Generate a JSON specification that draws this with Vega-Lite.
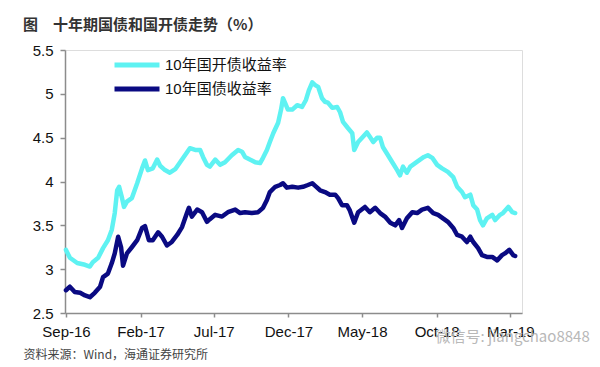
{
  "$schema": "https://vega.github.io/schema/vega-lite/v6.json",
  "width": 457,
  "height": 263,
  "autosize": {"type": "none"},
  "padding": {"left": 65, "top": 50, "right": 78, "bottom": 54},
  "background": "white",
  "title": {
    "text": "图　十年期国债和国开债走势（%）",
    "anchor": "start",
    "frame": "group",
    "dx": -42,
    "dy": 25,
    "offset": 20,
    "baseline": "bottom",
    "font": "Noto Sans CJK SC",
    "fontSize": 15,
    "fontWeight": "bold",
    "color": "#333333"
  },
  "data": {
    "values": [
      {"date": "2016-09-01", "series": "10年国开债收益率", "value": 3.22},
      {"date": "2016-09-09", "series": "10年国开债收益率", "value": 3.13},
      {"date": "2016-09-24", "series": "10年国开债收益率", "value": 3.07},
      {"date": "2016-10-10", "series": "10年国开债收益率", "value": 3.05},
      {"date": "2016-10-20", "series": "10年国开债收益率", "value": 3.03},
      {"date": "2016-10-26", "series": "10年国开债收益率", "value": 3.08},
      {"date": "2016-11-06", "series": "10年国开债收益率", "value": 3.13},
      {"date": "2016-11-16", "series": "10年国开债收益率", "value": 3.24},
      {"date": "2016-11-26", "series": "10年国开债收益率", "value": 3.33},
      {"date": "2016-12-04", "series": "10年国开债收益率", "value": 3.45},
      {"date": "2016-12-10", "series": "10年国开债收益率", "value": 3.64},
      {"date": "2016-12-15", "series": "10年国开债收益率", "value": 3.90},
      {"date": "2016-12-19", "series": "10年国开债收益率", "value": 3.94},
      {"date": "2016-12-25", "series": "10年国开债收益率", "value": 3.81},
      {"date": "2016-12-29", "series": "10年国开债收益率", "value": 3.71},
      {"date": "2017-01-04", "series": "10年国开债收益率", "value": 3.77},
      {"date": "2017-01-14", "series": "10年国开债收益率", "value": 3.81},
      {"date": "2017-01-25", "series": "10年国开债收益率", "value": 3.98},
      {"date": "2017-02-04", "series": "10年国开债收益率", "value": 4.15},
      {"date": "2017-02-10", "series": "10年国开债收益率", "value": 4.24},
      {"date": "2017-02-16", "series": "10年国开债收益率", "value": 4.13},
      {"date": "2017-02-26", "series": "10年国开债收益率", "value": 4.15},
      {"date": "2017-03-07", "series": "10年国开债收益率", "value": 4.25},
      {"date": "2017-03-13", "series": "10年国开债收益率", "value": 4.18},
      {"date": "2017-03-23", "series": "10年国开债收益率", "value": 4.13},
      {"date": "2017-04-02", "series": "10年国开债收益率", "value": 4.10},
      {"date": "2017-04-13", "series": "10年国开债收益率", "value": 4.14},
      {"date": "2017-04-23", "series": "10年国开债收益率", "value": 4.22},
      {"date": "2017-05-03", "series": "10年国开债收益率", "value": 4.30},
      {"date": "2017-05-13", "series": "10年国开债收益率", "value": 4.38},
      {"date": "2017-05-24", "series": "10年国开债收益率", "value": 4.36},
      {"date": "2017-06-03", "series": "10年国开债收益率", "value": 4.36},
      {"date": "2017-06-09", "series": "10年国开债收益率", "value": 4.28},
      {"date": "2017-06-17", "series": "10年国开债收益率", "value": 4.19},
      {"date": "2017-06-23", "series": "10年国开债收益率", "value": 4.17},
      {"date": "2017-07-04", "series": "10年国开债收益率", "value": 4.25},
      {"date": "2017-07-14", "series": "10年国开债收益率", "value": 4.19},
      {"date": "2017-07-24", "series": "10年国开债收益率", "value": 4.22},
      {"date": "2017-08-07", "series": "10年国开债收益率", "value": 4.30},
      {"date": "2017-08-20", "series": "10年国开债收益率", "value": 4.36},
      {"date": "2017-08-28", "series": "10年国开债收益率", "value": 4.34},
      {"date": "2017-09-03", "series": "10年国开债收益率", "value": 4.28},
      {"date": "2017-09-13", "series": "10年国开债收益率", "value": 4.25},
      {"date": "2017-09-24", "series": "10年国开债收益率", "value": 4.22},
      {"date": "2017-10-04", "series": "10年国开债收益率", "value": 4.21},
      {"date": "2017-10-10", "series": "10年国开债收益率", "value": 4.27},
      {"date": "2017-10-18", "series": "10年国开债收益率", "value": 4.36},
      {"date": "2017-10-24", "series": "10年国开债收益率", "value": 4.45},
      {"date": "2017-10-31", "series": "10年国开债收益率", "value": 4.55},
      {"date": "2017-11-10", "series": "10年国开债收益率", "value": 4.67},
      {"date": "2017-11-16", "series": "10年国开债收益率", "value": 4.82},
      {"date": "2017-11-20", "series": "10年国开债收益率", "value": 4.95},
      {"date": "2017-11-24", "series": "10年国开债收益率", "value": 4.90},
      {"date": "2017-11-30", "series": "10年国开债收益率", "value": 4.82},
      {"date": "2017-12-09", "series": "10年国开债收益率", "value": 4.82},
      {"date": "2017-12-19", "series": "10年国开债收益率", "value": 4.87},
      {"date": "2017-12-29", "series": "10年国开债收益率", "value": 4.85},
      {"date": "2018-01-06", "series": "10年国开债收益率", "value": 4.93},
      {"date": "2018-01-12", "series": "10年国开债收益率", "value": 5.04},
      {"date": "2018-01-19", "series": "10年国开债收益率", "value": 5.13},
      {"date": "2018-01-25", "series": "10年国开债收益率", "value": 5.10},
      {"date": "2018-01-31", "series": "10年国开债收益率", "value": 5.08},
      {"date": "2018-02-08", "series": "10年国开债收益率", "value": 4.95},
      {"date": "2018-02-14", "series": "10年国开债收益率", "value": 4.91},
      {"date": "2018-02-20", "series": "10年国开债收益率", "value": 4.90},
      {"date": "2018-03-01", "series": "10年国开债收益率", "value": 4.84},
      {"date": "2018-03-11", "series": "10年国开债收益率", "value": 4.85},
      {"date": "2018-03-17", "series": "10年国开债收益率", "value": 4.79},
      {"date": "2018-03-23", "series": "10年国开债收益率", "value": 4.68},
      {"date": "2018-04-02", "series": "10年国开债收益率", "value": 4.61},
      {"date": "2018-04-11", "series": "10年国开债收益率", "value": 4.55},
      {"date": "2018-04-15", "series": "10年国开债收益率", "value": 4.36},
      {"date": "2018-04-23", "series": "10年国开债收益率", "value": 4.45},
      {"date": "2018-05-03", "series": "10年国开债收益率", "value": 4.51},
      {"date": "2018-05-11", "series": "10年国开债收益率", "value": 4.56},
      {"date": "2018-05-17", "series": "10年国开债收益率", "value": 4.51},
      {"date": "2018-05-24", "series": "10年国开债收益率", "value": 4.45},
      {"date": "2018-06-01", "series": "10年国开债收益率", "value": 4.50},
      {"date": "2018-06-07", "series": "10年国开债收益率", "value": 4.50},
      {"date": "2018-06-13", "series": "10年国开债收益率", "value": 4.39},
      {"date": "2018-06-21", "series": "10年国开债收益率", "value": 4.32},
      {"date": "2018-07-02", "series": "10年国开债收益率", "value": 4.22},
      {"date": "2018-07-12", "series": "10年国开债收益率", "value": 4.13},
      {"date": "2018-07-18", "series": "10年国开债收益率", "value": 4.07},
      {"date": "2018-07-24", "series": "10年国开债收益率", "value": 4.17},
      {"date": "2018-08-01", "series": "10年国开债收益率", "value": 4.10},
      {"date": "2018-08-08", "series": "10年国开债收益率", "value": 4.17},
      {"date": "2018-08-18", "series": "10年国开债收益率", "value": 4.21},
      {"date": "2018-08-28", "series": "10年国开债收益率", "value": 4.25},
      {"date": "2018-09-05", "series": "10年国开债收益率", "value": 4.28},
      {"date": "2018-09-13", "series": "10年国开债收益率", "value": 4.30},
      {"date": "2018-09-22", "series": "10年国开债收益率", "value": 4.27},
      {"date": "2018-10-02", "series": "10年国开债收益率", "value": 4.19},
      {"date": "2018-10-12", "series": "10年国开债收益率", "value": 4.15},
      {"date": "2018-10-24", "series": "10年国开债收益率", "value": 4.11},
      {"date": "2018-11-04", "series": "10年国开债收益率", "value": 4.05},
      {"date": "2018-11-12", "series": "10年国开债收益率", "value": 3.94},
      {"date": "2018-11-22", "series": "10年国开债收益率", "value": 3.88},
      {"date": "2018-11-28", "series": "10年国开债收益率", "value": 3.82},
      {"date": "2018-12-09", "series": "10年国开债收益率", "value": 3.85},
      {"date": "2018-12-15", "series": "10年国开债收益率", "value": 3.73},
      {"date": "2018-12-23", "series": "10年国开债收益率", "value": 3.68},
      {"date": "2018-12-29", "series": "10年国开债收益率", "value": 3.56},
      {"date": "2019-01-04", "series": "10年国开债收益率", "value": 3.50},
      {"date": "2019-01-12", "series": "10年国开债收益率", "value": 3.58},
      {"date": "2019-01-23", "series": "10年国开债收益率", "value": 3.62},
      {"date": "2019-01-29", "series": "10年国开债收益率", "value": 3.56},
      {"date": "2019-02-08", "series": "10年国开债收益率", "value": 3.62},
      {"date": "2019-02-14", "series": "10年国开债收益率", "value": 3.64},
      {"date": "2019-02-25", "series": "10年国开债收益率", "value": 3.71},
      {"date": "2019-03-05", "series": "10年国开债收益率", "value": 3.65},
      {"date": "2019-03-11", "series": "10年国开债收益率", "value": 3.64},
      {"date": "2016-09-01", "series": "10年国债收益率", "value": 2.76},
      {"date": "2016-09-09", "series": "10年国债收益率", "value": 2.80},
      {"date": "2016-09-19", "series": "10年国债收益率", "value": 2.74},
      {"date": "2016-09-30", "series": "10年国债收益率", "value": 2.73},
      {"date": "2016-10-10", "series": "10年国债收益率", "value": 2.70},
      {"date": "2016-10-20", "series": "10年国债收益率", "value": 2.68},
      {"date": "2016-10-30", "series": "10年国债收益率", "value": 2.73},
      {"date": "2016-11-10", "series": "10年国债收益率", "value": 2.80},
      {"date": "2016-11-16", "series": "10年国债收益率", "value": 2.91},
      {"date": "2016-11-26", "series": "10年国债收益率", "value": 2.95},
      {"date": "2016-12-04", "series": "10年国债收益率", "value": 3.07},
      {"date": "2016-12-10", "series": "10年国债收益率", "value": 3.18},
      {"date": "2016-12-17", "series": "10年国债收益率", "value": 3.37},
      {"date": "2016-12-23", "series": "10年国债收益率", "value": 3.25},
      {"date": "2016-12-27", "series": "10年国债收益率", "value": 3.04},
      {"date": "2017-01-04", "series": "10年国债收益率", "value": 3.18},
      {"date": "2017-01-14", "series": "10年国债收益率", "value": 3.25},
      {"date": "2017-01-25", "series": "10年国债收益率", "value": 3.33},
      {"date": "2017-02-04", "series": "10年国债收益率", "value": 3.47},
      {"date": "2017-02-10", "series": "10年国债收益率", "value": 3.49},
      {"date": "2017-02-18", "series": "10年国债收益率", "value": 3.33},
      {"date": "2017-02-26", "series": "10年国债收益率", "value": 3.33},
      {"date": "2017-03-09", "series": "10年国债收益率", "value": 3.42},
      {"date": "2017-03-17", "series": "10年国债收益率", "value": 3.37},
      {"date": "2017-03-27", "series": "10年国债收益率", "value": 3.27},
      {"date": "2017-04-06", "series": "10年国债收益率", "value": 3.31},
      {"date": "2017-04-17", "series": "10年国债收益率", "value": 3.39},
      {"date": "2017-04-27", "series": "10年国债收益率", "value": 3.48},
      {"date": "2017-05-07", "series": "10年国债收益率", "value": 3.64},
      {"date": "2017-05-11", "series": "10年国债收益率", "value": 3.70},
      {"date": "2017-05-17", "series": "10年国债收益率", "value": 3.60},
      {"date": "2017-05-28", "series": "10年国债收益率", "value": 3.68},
      {"date": "2017-06-07", "series": "10年国债收益率", "value": 3.65},
      {"date": "2017-06-17", "series": "10年国债收益率", "value": 3.54},
      {"date": "2017-06-23", "series": "10年国债收益率", "value": 3.57},
      {"date": "2017-07-04", "series": "10年国债收益率", "value": 3.62},
      {"date": "2017-07-18", "series": "10年国债收益率", "value": 3.60},
      {"date": "2017-07-30", "series": "10年国债收益率", "value": 3.65},
      {"date": "2017-08-14", "series": "10年国债收益率", "value": 3.68},
      {"date": "2017-08-24", "series": "10年国债收益率", "value": 3.64},
      {"date": "2017-09-03", "series": "10年国债收益率", "value": 3.65},
      {"date": "2017-09-17", "series": "10年国债收益率", "value": 3.64},
      {"date": "2017-09-30", "series": "10年国债收益率", "value": 3.65},
      {"date": "2017-10-10", "series": "10年国债收益率", "value": 3.70},
      {"date": "2017-10-18", "series": "10年国债收益率", "value": 3.79},
      {"date": "2017-10-24", "series": "10年国债收益率", "value": 3.88},
      {"date": "2017-11-04", "series": "10年国债收益率", "value": 3.94},
      {"date": "2017-11-14", "series": "10年国债收益率", "value": 3.96},
      {"date": "2017-11-20", "series": "10年国债收益率", "value": 3.98},
      {"date": "2017-11-28", "series": "10年国债收益率", "value": 3.93},
      {"date": "2017-12-09", "series": "10年国债收益率", "value": 3.94},
      {"date": "2017-12-21", "series": "10年国债收益率", "value": 3.93},
      {"date": "2017-12-31", "series": "10年国债收益率", "value": 3.94},
      {"date": "2018-01-10", "series": "10年国债收益率", "value": 3.96},
      {"date": "2018-01-19", "series": "10年国债收益率", "value": 3.98},
      {"date": "2018-01-25", "series": "10年国债收益率", "value": 3.95},
      {"date": "2018-02-04", "series": "10年国债收益率", "value": 3.90},
      {"date": "2018-02-14", "series": "10年国债收益率", "value": 3.88},
      {"date": "2018-02-24", "series": "10年国债收益率", "value": 3.85},
      {"date": "2018-03-07", "series": "10年国债收益率", "value": 3.85},
      {"date": "2018-03-13", "series": "10年国债收益率", "value": 3.81},
      {"date": "2018-03-21", "series": "10年国债收益率", "value": 3.73},
      {"date": "2018-03-31", "series": "10年国债收益率", "value": 3.73},
      {"date": "2018-04-06", "series": "10年国债收益率", "value": 3.67},
      {"date": "2018-04-15", "series": "10年国债收益率", "value": 3.53},
      {"date": "2018-04-23", "series": "10年国债收益率", "value": 3.65},
      {"date": "2018-05-07", "series": "10年国债收益率", "value": 3.71},
      {"date": "2018-05-17", "series": "10年国债收益率", "value": 3.65},
      {"date": "2018-05-28", "series": "10年国债收益率", "value": 3.70},
      {"date": "2018-06-07", "series": "10年国债收益率", "value": 3.64},
      {"date": "2018-06-17", "series": "10年国债收益率", "value": 3.60},
      {"date": "2018-06-28", "series": "10年国债收益率", "value": 3.53},
      {"date": "2018-07-08", "series": "10年国债收益率", "value": 3.50},
      {"date": "2018-07-16", "series": "10年国债收益率", "value": 3.56},
      {"date": "2018-07-22", "series": "10年国债收益率", "value": 3.47},
      {"date": "2018-08-01", "series": "10年国债收益率", "value": 3.58},
      {"date": "2018-08-12", "series": "10年国债收益率", "value": 3.65},
      {"date": "2018-08-22", "series": "10年国债收益率", "value": 3.64},
      {"date": "2018-09-01", "series": "10年国债收益率", "value": 3.68},
      {"date": "2018-09-13", "series": "10年国债收益率", "value": 3.70},
      {"date": "2018-09-24", "series": "10年国债收益率", "value": 3.64},
      {"date": "2018-10-04", "series": "10年国债收益率", "value": 3.62},
      {"date": "2018-10-14", "series": "10年国债收益率", "value": 3.58},
      {"date": "2018-10-24", "series": "10年国债收益率", "value": 3.54},
      {"date": "2018-11-04", "series": "10年国债收益率", "value": 3.47},
      {"date": "2018-11-12", "series": "10年国债收益率", "value": 3.39},
      {"date": "2018-11-22", "series": "10年国债收益率", "value": 3.37},
      {"date": "2018-12-02", "series": "10年国债收益率", "value": 3.31},
      {"date": "2018-12-09", "series": "10年国债收益率", "value": 3.37},
      {"date": "2018-12-15", "series": "10年国债收益率", "value": 3.31},
      {"date": "2018-12-25", "series": "10年国债收益率", "value": 3.24},
      {"date": "2019-01-02", "series": "10年国债收益率", "value": 3.16},
      {"date": "2019-01-12", "series": "10年国债收益率", "value": 3.14},
      {"date": "2019-01-23", "series": "10年国债收益率", "value": 3.14},
      {"date": "2019-02-02", "series": "10年国债收益率", "value": 3.10},
      {"date": "2019-02-12", "series": "10年国债收益率", "value": 3.16},
      {"date": "2019-02-18", "series": "10年国债收益率", "value": 3.18},
      {"date": "2019-02-27", "series": "10年国债收益率", "value": 3.22},
      {"date": "2019-03-07", "series": "10年国债收益率", "value": 3.16},
      {"date": "2019-03-11", "series": "10年国债收益率", "value": 3.15}
    ]
  },
  "mark": {"type": "line", "strokeWidth": 4.5, "strokeJoin": "round", "strokeCap": "round"},
  "encoding": {
    "x": {
      "field": "date",
      "type": "temporal",
      "scale": {
        "type": "utc",
        "domain": [
          {"year": 2016, "month": 8, "date": 30, "utc": true},
          {"year": 2019, "month": 3, "date": 25, "utc": true}
        ]
      },
      "axis": {
        "values": [
          {"year": 2016, "month": 9, "date": 1, "utc": true},
          {"year": 2017, "month": 2, "date": 1, "utc": true},
          {"year": 2017, "month": 7, "date": 1, "utc": true},
          {"year": 2017, "month": 12, "date": 1, "utc": true},
          {"year": 2018, "month": 5, "date": 1, "utc": true},
          {"year": 2018, "month": 10, "date": 1, "utc": true},
          {"year": 2019, "month": 3, "date": 1, "utc": true}
        ],
        "format": "%b-%y",
        "grid": false,
        "labelFont": "Liberation Sans",
        "labelFontSize": 15,
        "labelColor": "#111111",
        "labelPadding": 7,
        "labelOverlap": false,
        "labelFlush": false,
        "domainColor": "#8c8c8c",
        "domainWidth": 1.5,
        "tickColor": "#8c8c8c",
        "tickWidth": 1.5,
        "tickSize": 4,
        "title": "资料来源：Wind，海通证券研究所",
        "titleX": -42,
        "titleY": 41,
        "titleAlign": "left",
        "titleBaseline": "middle",
        "titleFont": "Noto Sans CJK SC",
        "titleFontSize": 12,
        "titleFontWeight": "normal",
        "titleColor": "#444444"
      }
    },
    "y": {
      "field": "value",
      "type": "quantitative",
      "scale": {"domain": [2.5, 5.5], "nice": false, "zero": false},
      "axis": {
        "values": [2.5, 3, 3.5, 4, 4.5, 5, 5.5],
        "format": "~g",
        "grid": false,
        "labelFont": "Liberation Sans",
        "labelFontSize": 15,
        "labelColor": "#111111",
        "labelPadding": 7,
        "domainColor": "#8c8c8c",
        "domainWidth": 1.5,
        "tickColor": "#8c8c8c",
        "tickWidth": 1.5,
        "tickSize": 5,
        "title": "微信号: jiangchao8848",
        "titleAngle": 0,
        "titleX": 370,
        "titleY": 286,
        "titleAlign": "left",
        "titleBaseline": "middle",
        "titleFont": "Noto Sans CJK SC",
        "titleFontSize": 15,
        "titleFontWeight": "normal",
        "titleColor": "#b8b8b8"
      }
    },
    "color": {
      "field": "series",
      "type": "nominal",
      "scale": {
        "domain": ["10年国开债收益率", "10年国债收益率"],
        "range": ["#5EF2F2", "#0A0A82"]
      },
      "legend": {
        "title": null,
        "orient": "none",
        "legendX": 58,
        "legendY": 1,
        "symbolType": "M-2,0H2",
        "symbolSize": 506,
        "symbolStrokeWidth": 5,
        "labelFont": "Liberation Sans, Noto Sans CJK SC",
        "labelFontSize": 15,
        "labelColor": "#111111",
        "labelOffset": 14,
        "rowPadding": -3,
        "padding": 0
      }
    }
  }
}
